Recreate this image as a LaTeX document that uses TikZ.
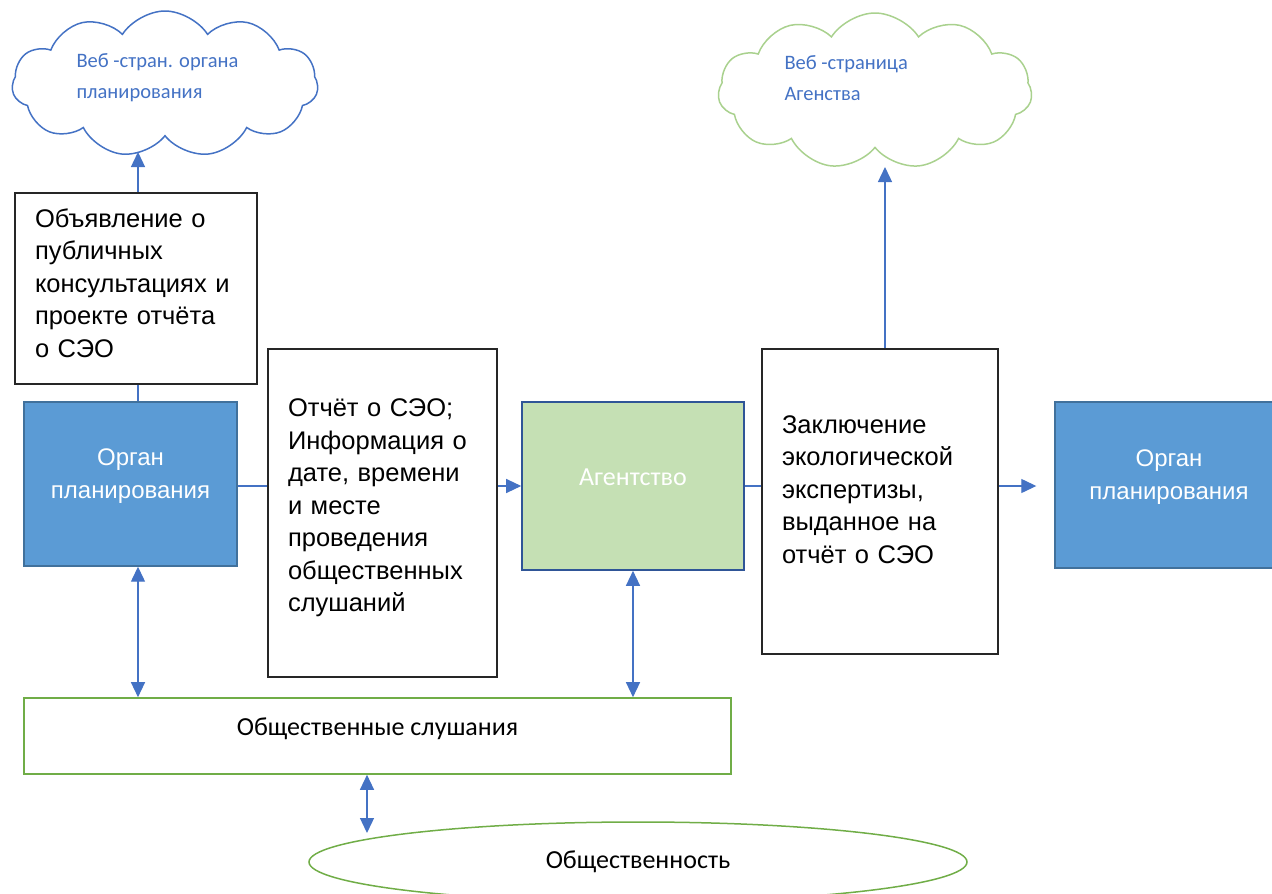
\documentclass[tikz,border=0pt]{standalone}
\usepackage{fontspec}
\setmainfont{Liberation Sans}
\newfontfamily\calibri{Carlito}
\usetikzlibrary{shapes.symbols,shapes.geometric,arrows.meta}
\definecolor{lineblue}{HTML}{4472C4}
\definecolor{planblue}{HTML}{5B9BD5}
\definecolor{planedge}{HTML}{41719C}
\definecolor{agfill}{HTML}{C5E0B4}
\definecolor{agedge}{HTML}{2F5597}
\definecolor{hgreen}{HTML}{70AD47}
\definecolor{cgreen}{HTML}{A9D18E}
\begin{document}
\begin{tikzpicture}[x=1pt,y=-1pt,
	textbox/.style={draw=black!85,line width=1.6pt,fill=white,align=left,inner xsep=20pt,
		font=\fontsize{25.5}{32.5}\selectfont},
	planbox/.style={draw=planedge,line width=1.4pt,fill=planblue,text=white,align=center,
		minimum width=213pt,minimum height=164pt,text depth=21pt,font=\fontsize{24}{33}\selectfont},
	web/.style={cloud,cloud puffs=11,cloud puff arc=115,cloud ignores aspect,line width=1.5pt,
		minimum width=306pt,minimum height=146pt},
	webtext/.style={text=lineblue,align=left,anchor=west,font=\calibri\fontsize{20.5}{31}\selectfont},
	conn/.style={draw=lineblue,line width=1.3pt},
	tip/.style={conn,-{Triangle[width=14pt,length=15pt]}},
	both/.style={conn,{Triangle[width=14pt,length=15pt]}-{Triangle[width=14pt,length=15pt]}}]
	\clip (0,0) rectangle (1272,894);
	\node[web,draw=lineblue] (web1) at (165,84) {};
	\node[webtext] (web1txt) at (73,78) {Веб -стран. органа\\планирования};
	\node[web,draw=cgreen,minimum width=314pt,minimum height=156pt] (web2) at (875,91) {};
	\node[webtext] (web2txt) at (781,78) {Веб -страница\\Агенства};
	\node[textbox,text width=202pt,minimum height=191pt,text depth=141pt] (notice) at (136,288.5)
		{Объявление о\\публичных\\консультациях и\\проекте отчёта\\о СЭО};
	\node[planbox] (plan1) at (130.5,484) {Орган\\планирования};
	\node[textbox,text width=189pt,minimum height=328pt,text depth=210pt] (report) at (382.5,513)
		{Отчёт о СЭО;\\Информация о\\дате, времени\\и месте\\проведения\\общественных\\слушаний};
	\node[draw=agedge,line width=1.6pt,fill=agfill,text=white,minimum width=222pt,minimum height=168pt,
		text depth=18pt,font=\calibri\fontsize{26}{30}\selectfont] (agency) at (633,486) {Агентство};
	\node[textbox,text width=196pt,minimum height=305pt,text depth=154pt] (opinion) at (880,501.5)
		{Заключение\\экологической\\экспертизы,\\выданное на\\отчёт о СЭО};
	\node[planbox,minimum width=228pt,minimum height=166pt] (plan2) at (1169,485) {Орган\\планирования};
	\node[draw=hgreen,line width=1.6pt,minimum width=707pt,minimum height=76pt,text depth=19pt,
		font=\calibri\fontsize{26}{30}\selectfont] (hearing) at (377.5,736) {Общественные слушания};
	\node[ellipse,draw=hgreen,line width=1.5pt,minimum width=658pt,minimum height=80pt,
		font=\calibri\fontsize{26}{30}\selectfont] (public) at (638,862) {Общественность};
	\coordinate (web1bot) at (138,152);
	\coordinate (web2bot) at (885,167);
	\coordinate (pubtop) at (367,833);
	\draw[tip] (notice.north -| web1bot) -- (web1bot);
	\draw[conn] (notice.south -| web1bot) -- (plan1.north -| web1bot);
	\draw[both] (plan1.south -| web1bot) -- (hearing.north -| web1bot);
	\draw[conn] (plan1.east |- agency.west) -- (report.west |- agency.west);
	\draw[tip] (report.east |- agency.west) -- (agency.west);
	\draw[conn] (agency.east) -- (opinion.west |- agency.east);
	\draw[tip] (opinion.east |- agency.east) -- ([xshift=-18pt]plan2.west |- agency.east);
	\draw[tip] (opinion.north -| web2bot) -- (web2bot);
	\draw[both] (agency.south) -- (agency.south |- hearing.north);
	\draw[both] (hearing.south -| pubtop) -- (pubtop);
\end{tikzpicture}
\end{document}
